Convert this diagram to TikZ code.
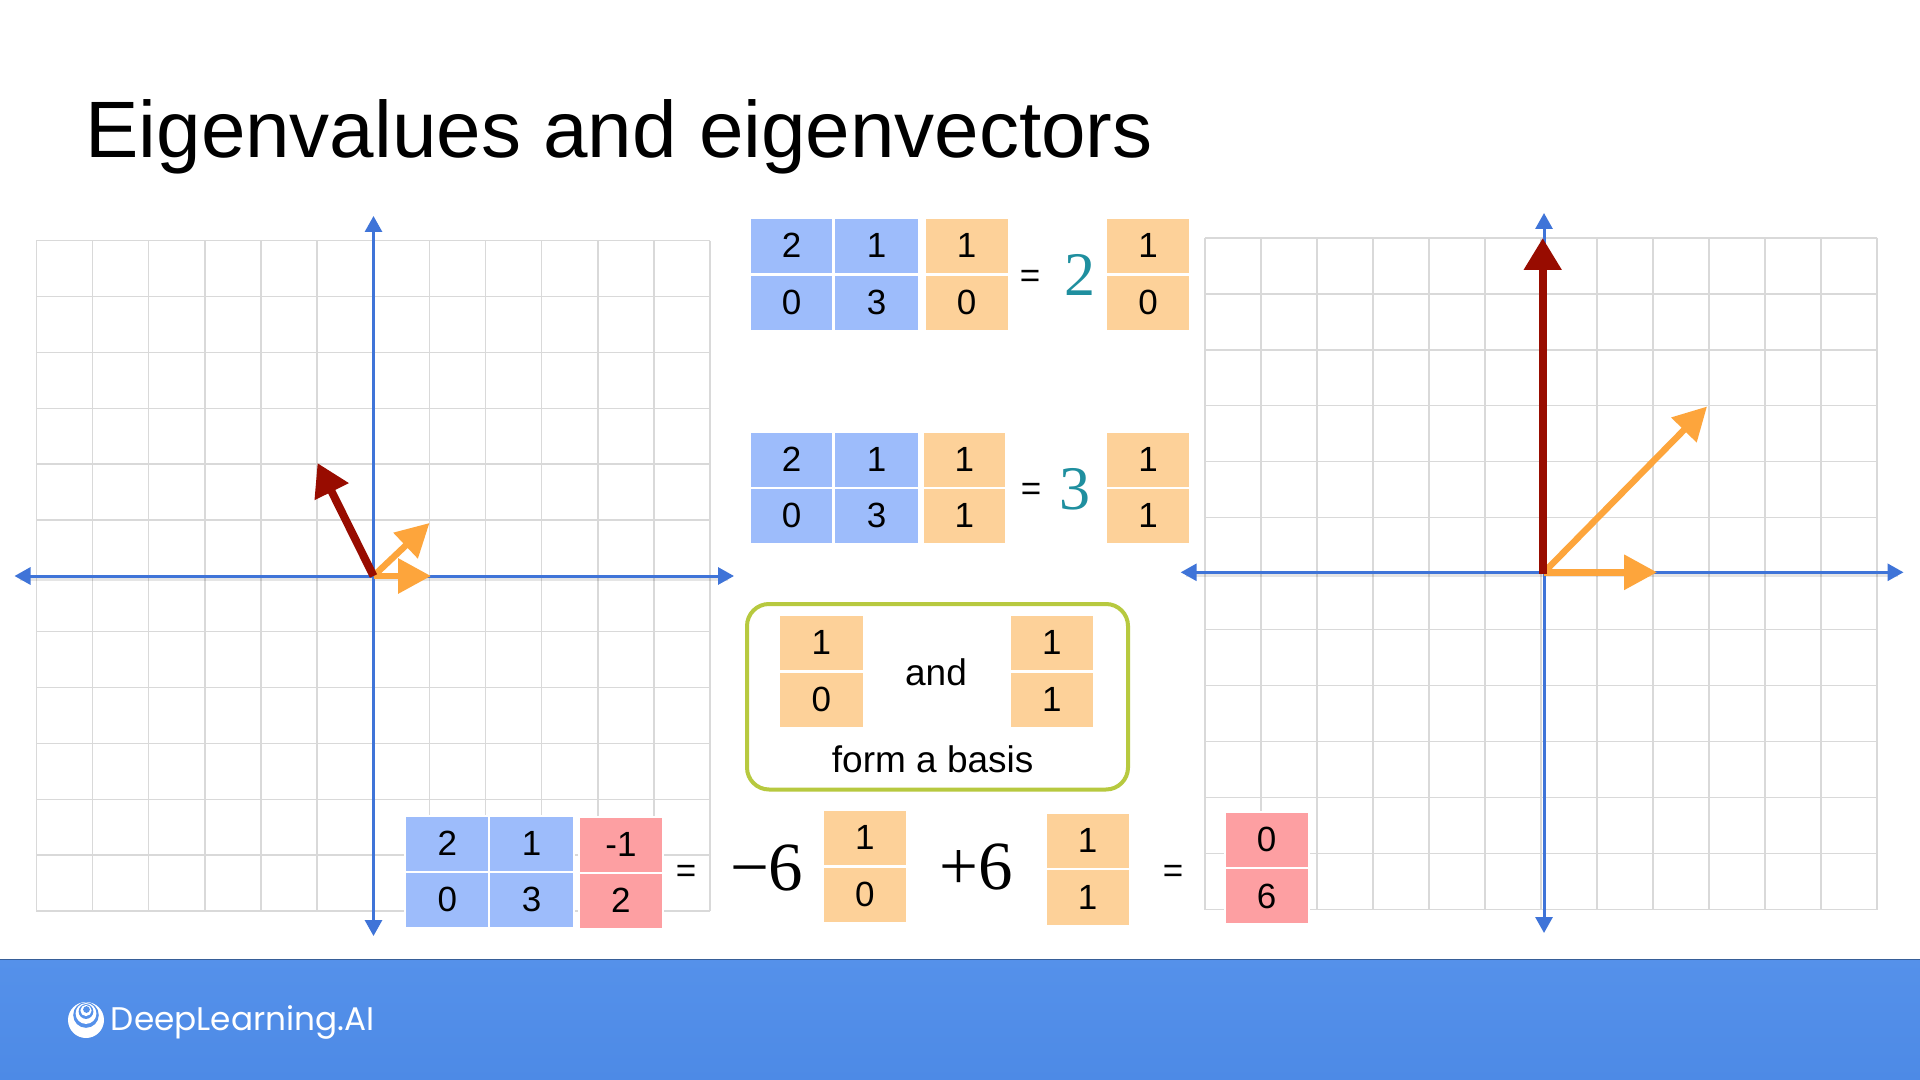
\documentclass[tikz,border=0pt]{standalone}
\usepackage{fontspec}
\usepackage{tikz}
\usetikzlibrary{arrows.meta}
\setmainfont{Liberation Sans}
\newfontfamily\serifnum{Liberation Serif}
\newfontfamily\logofont{Poppins}
\definecolor{cblue}{HTML}{9DBCFB}
\definecolor{corange}{HTML}{FDD199}
\definecolor{cred}{HTML}{FD9FA2}
\definecolor{axisblue}{HTML}{3F74D8}
\definecolor{gridgray}{HTML}{D9D9D9}
\definecolor{vecred}{HTML}{980C00}
\definecolor{vecorange}{HTML}{FDA53C}
\definecolor{teal2}{HTML}{1F8F9F}
\definecolor{boxgreen}{HTML}{B7C93F}
\definecolor{bartop}{HTML}{5591EA}
\definecolor{barbot}{HTML}{4D8AE6}
\tikzset{
  gridline/.style={gridgray,line width=0.75pt},
  axisline/.style={axisblue,line width=1.5pt,{Triangle[length=8pt,width=8.5pt]}-{Triangle[length=8pt,width=8.5pt]}},
  axisshadow/.style={black,opacity=0.10,line width=2pt},
  redvec/.style={vecred,line width=4pt,-{Triangle[length=16pt,width=18pt]}},
  orangevec/.style={vecorange,line width=3.2pt,-{Triangle[length=16.5pt,width=17pt]}},
  cellbox/.style={draw=white,line width=1pt,inner sep=0pt,outer sep=0pt,text=black,font=\fontsize{17.5}{20}\selectfont},
  eqsign/.style={inner sep=0pt,text=black,font=\fontsize{17.5}{20}\selectfont},
  bigcoef/.style={inner sep=0pt,font=\serifnum\fontsize{31}{36}\selectfont},
  bigterm/.style={inner sep=0pt,text=black,font=\serifnum\fontsize{34.5}{40}\selectfont},
  labeltext/.style={inner sep=0pt,text=black,font=\fontsize{18.5}{22}\selectfont},
}
% name, colour, x1, y1, x2, y2, text
\newcommand{\tablecell}[7]{%
  \node[cellbox,fill=#2,minimum width={(#5-#3+2)*0.5pt},minimum height={(#6-#4+2)*0.5pt}]
    (#1) at ({(#3+#5)/2},{(#4+#6)/2}) {\raisebox{0.5pt}{#7}};}
\begin{document}
\begin{tikzpicture}[x=0.5pt,y=-0.5pt]
\useasboundingbox (0,0) rectangle (1920,1080);
\fill[white] (0,0) rectangle (1920,1080);

% title
\node[anchor=base west,inner sep=0pt,text=black,font=\fontsize{40}{46}\selectfont] (title) at (85,158) {Eigenvalues and eigenvectors};

% left grid
\foreach \k in {0,...,12} {
  \draw[gridline] ({36.4+\k*56.14},240.7) -- ({36.4+\k*56.14},911);
  \draw[gridline] (36.4,{240.7+\k*55.86}) -- (710.1,{240.7+\k*55.86});
}
% right grid
\foreach \k in {0,...,12} {
  \draw[gridline] ({1205+\k*56.0},237.8) -- ({1205+\k*56.0},909.6);
  \draw[gridline] (1205,{237.8+\k*55.98}) -- (1877,{237.8+\k*55.98});
}

% left axes
\coordinate (lO) at (373.5,576);
\coordinate (lW) at (14.5,576);
\coordinate (lE) at (734,576);
\coordinate (lN) at (373.5,216);
\coordinate (lS) at (373.5,936);
\draw[axisshadow] (20,579) -- (728,579);
\draw[axisline] (lW) -- (lE);
\draw[axisline] (lN) -- (lS);
\coordinate (lR) at (317.5,463);
\coordinate (lA) at (429.5,523);
\coordinate (lB) at (431,576);
\draw[orangevec] (lO) -- (lA);
\draw[orangevec] (lO) -- (lB);
\draw[redvec] (lO) -- (lR);

% right axes
\coordinate (rO) at (1544,572.3);
\coordinate (rW) at (1180.7,572.3);
\coordinate (rE) at (1903.5,572.3);
\coordinate (rN) at (1544,213);
\coordinate (rS) at (1544,933);
\draw[axisshadow] (1186,575.3) -- (1898,575.3);
\draw[axisline] (rW) -- (rE);
\draw[axisline] (rN) -- (rS);
\coordinate (rR) at (1542.7,238);
\coordinate (rRs) at (1542.7,574);
\coordinate (rA) at (1707,406.5);
\coordinate (rB) at (1657,572.3);
\draw[orangevec] (rO) -- (rA);
\draw[orangevec] (rO) -- (rB);
\draw[redvec] (rRs) -- (rR);

% first equation
\tablecell{aA}{cblue}{751}{219}{832.3}{273.5}{2}
\tablecell{aB}{cblue}{835.3}{219}{917.7}{273.5}{1}
\tablecell{aC}{cblue}{751}{275.8}{832.3}{329.7}{0}
\tablecell{aD}{cblue}{835.3}{275.8}{917.7}{329.7}{3}
\tablecell{aE}{corange}{925.7}{219.5}{1007.7}{273}{1}
\tablecell{aF}{corange}{925.7}{275.8}{1007.7}{330.5}{0}
\node[eqsign] (aeq) at (1030,279) {=};
\node[bigcoef,text=teal2] (acoef) at (1079.5,274.6) {2};
\tablecell{aG}{corange}{1107}{219}{1189}{273.2}{1}
\tablecell{aH}{corange}{1107}{275.8}{1189}{329.7}{0}

% second equation
\tablecell{bA}{cblue}{751}{433}{832.3}{486.6}{2}
\tablecell{bB}{cblue}{835.3}{433}{917.7}{486.6}{1}
\tablecell{bC}{cblue}{751}{489}{832.3}{542.5}{0}
\tablecell{bD}{cblue}{835.3}{489}{917.7}{542.5}{3}
\tablecell{bE}{corange}{923.7}{433}{1005}{486.6}{1}
\tablecell{bF}{corange}{923.7}{489}{1005}{543}{1}
\node[eqsign] (beq) at (1031,491.5) {=};
\node[bigcoef,text=teal2] (bcoef) at (1075,489) {3};
\tablecell{bG}{corange}{1107}{433}{1189}{486.6}{1}
\tablecell{bH}{corange}{1107}{489}{1189}{542.5}{1}

% basis box
\draw[boxgreen,line width=2pt,rounded corners=11pt] (747,604) rectangle (1128,789.5);
\tablecell{cA}{corange}{780}{616}{862.7}{670}{1}
\tablecell{cB}{corange}{780}{673}{862.7}{727}{0}
\tablecell{cC}{corange}{1011}{616}{1092.7}{670}{1}
\tablecell{cD}{corange}{1011}{673}{1092.7}{727}{1}
\node[labeltext] (cand) at (936,672.6) {and};
\node[labeltext] (cform) at (932.7,759.5) {form a basis};

% bottom equation
\tablecell{dA}{cblue}{406}{816.7}{488.5}{870.7}{2}
\tablecell{dB}{cblue}{490.3}{816.7}{572.7}{870.7}{1}
\tablecell{dC}{cblue}{406}{872.7}{488.5}{926.7}{0}
\tablecell{dD}{cblue}{490.3}{872.7}{572.7}{926.7}{3}
\tablecell{dE}{cred}{580}{817.7}{661.8}{871.7}{-1}
\tablecell{dF}{cred}{580}{873.7}{661.8}{928}{2}
\node[eqsign] (deq) at (686,873.5) {=};
\node[bigterm] (dcoefa) at (766.7,868) {−6};
\tablecell{dG}{corange}{823.6}{811}{906}{865}{1}
\tablecell{dH}{corange}{823.6}{868}{906}{921.7}{0}
\node[bigterm] (dcoefb) at (976.4,867) {+6};
\tablecell{dI}{corange}{1046.7}{814.3}{1128.5}{868.3}{1}
\tablecell{dJ}{corange}{1046.7}{870.3}{1128.5}{925}{1}
\node[eqsign] (deqb) at (1173,873.5) {=};
\tablecell{dK}{cred}{1225.5}{813.3}{1307.5}{867}{0}
\tablecell{dL}{cred}{1225.5}{869.3}{1307.5}{923.3}{6}

% footer
\shade[top color=bartop,bottom color=barbot] (0,959) rectangle (1920,1080);
\draw[black!35!bartop,line width=0.5pt] (0,959) -- (1920,959);

% logo
\fill[white] (86,1020) circle[radius=18];
\fill[bartop] (86,1015) circle[radius=12.8];
\fill[white] (86,1013.5) circle[radius=10.4];
\fill[bartop] (86,1011.5) circle[radius=7.4];
\fill[white] (86,1010.5) circle[radius=5.6];
\fill[bartop] (86.5,1009.5) circle[radius=3.4];
\node[anchor=base west,inner sep=0pt,text=white,font=\logofont\fontsize{16.35}{18}\selectfont] (brand) at (110.5,1030) {DeepLearning.AI};
\end{tikzpicture}
\end{document}
